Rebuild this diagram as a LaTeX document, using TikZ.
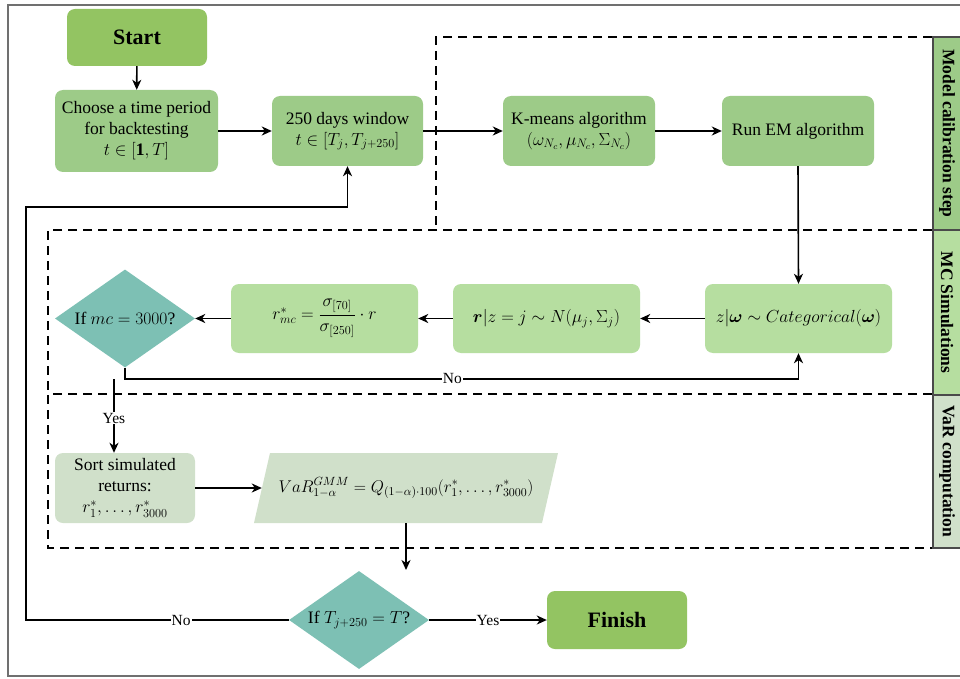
\RequirePackage{fix-cm}
\documentclass[tikz,border=0pt]{standalone}
\usepackage{amsmath}
\usepackage{fontspec}
\setmainfont{Liberation Serif}
\usetikzlibrary{arrows.meta,shapes.geometric}
\definecolor{cstart}{HTML}{93C462}
\definecolor{cmid}{HTML}{9DCB88}
\definecolor{clight}{HTML}{B6DEA0}
\definecolor{cteal}{HTML}{7DC0B4}
\definecolor{cpale}{HTML}{D0E0CA}
\definecolor{cframe}{HTML}{707070}
\definecolor{cside}{HTML}{4A4A4A}
\newcommand\fs{\fontsize{17.5}{21}\selectfont}
\newcommand\vfs{\fontsize{17}{20}\selectfont}
\newcommand\bfs{\fontsize{22}{26}\selectfont\bfseries}
\newcommand\lfs{\fontsize{15.5}{18}\selectfont}
\newcommand\sfs{\fontsize{17.5}{21}\selectfont\bfseries}
\begin{document}
\begin{tikzpicture}[x=1pt,y=-1pt,
  gbox/.style={draw=none, rounded corners=8pt, align=center, inner sep=2pt, font=\fs, text=black},
  dia/.style={diamond, fill=cteal, inner sep=0pt, aspect=1.43, minimum width=140pt, minimum height=98pt, font=\fs},
  arr/.style={line width=1.6pt, -{Stealth[length=10pt,width=9pt,inset=3pt]}},
  dsh/.style={line width=1.6pt, dash pattern=on 9pt off 6pt},
  lbl/.style={fill=white, inner sep=1pt, font=\lfs},
  sidebox/.style={draw=cside, line width=1.5pt, minimum width=28pt, font=\sfs, inner sep=0pt}]
\useasboundingbox (0,0) rectangle (960,679);
\clip (0,0) rectangle (960,679);
\fill[white] (0,0) rectangle (960,679);
\draw[cframe, line width=1.5pt] (8,5) rectangle (975,676);

% dashed regions
\draw[dsh] (932,37) -- (436,37) -- (436,230);
\draw[dsh] (932,230) -- (48,230) -- (48,394);
\draw[dsh] (932,394) -- (48,394) -- (48,548) -- (932,548);

% side labels
\node[sidebox, fill=cmid, minimum height=193pt] (s1) at (947,133.5) {\rotatebox{-90}{Model calibration step}};
\node[sidebox, fill=clight, minimum height=165pt] (s2) at (947,312.5) {\rotatebox{-90}{MC Simulations}};
\node[sidebox, fill=cpale, minimum height=153pt] (s3) at (947,471.5) {\rotatebox{-90}{VaR computation}};

% row 1
\node[gbox, fill=cstart, minimum width=140pt, minimum height=57pt, font=\bfs] (start) at (137,37.5) {Start};
\node[gbox, fill=cmid, minimum width=163pt, minimum height=82pt] (choose) at (136.5,131) {Choose a time period\\for backtesting\\$t\in[\mathbf{1},T]$};
\node[gbox, fill=cmid, minimum width=151pt, minimum height=70pt] (win) at (347.5,131) {250 days window\\$t\in[T_j,T_{j+250}]$};
\node[gbox, fill=cmid, minimum width=152pt, minimum height=70pt] (km) at (579,131) {K-means algorithm\\$(\omega_{N_c},\mu_{N_c},\Sigma_{N_c})$};
\node[gbox, fill=cmid, minimum width=152pt, minimum height=70pt] (em) at (798,131) {Run EM algorithm};

% row 2
\node[gbox, fill=clight, minimum width=187pt, minimum height=69pt] (cat) at (798.5,318.5) {$z|\boldsymbol{\omega}\sim Categorical(\boldsymbol{\omega})$};
\node[gbox, fill=clight, minimum width=187pt, minimum height=69pt] (rz) at (546.5,318.5) {$\boldsymbol{r}|z=j\sim N(\mu_j,\Sigma_j)$};
\node[gbox, fill=clight, minimum width=187pt, minimum height=69pt] (rmc) at (324.5,318.5) {$r^*_{mc}=\dfrac{\sigma_{[70]}}{\sigma_{[250]}}\cdot r$};
\node[dia] (d1) at (125,318.5) {\makebox[0pt]{If $mc=3000$?}};

% row 3
\node[gbox, fill=cpale, minimum width=140pt, minimum height=70pt] (sort) at (125,488) {Sort simulated\\returns:\\$r^*_1,\dots,r^*_{3000}$};
\fill[cpale] (254,523) -- (270,453) -- (558,453) -- (542,523) -- cycle;
\node[minimum width=288pt, minimum height=70pt, inner sep=0pt, font=\vfs] (var) at (406,488) {$VaR^{GMM}_{1-\alpha}=Q_{(1-\alpha)\cdot 100}(r^*_1,\dots,r^*_{3000})$};

% bottom
\node[dia] (d2) at (359,620) {\makebox[0pt]{If $T_{j+250}=T$?}};
\node[gbox, fill=cstart, minimum width=140pt, minimum height=58pt, font=\bfs] (fin) at (617,620) {Finish};

% connectors
\draw[arr] (start) -- (choose);
\draw[arr] (choose) -- (win);
\draw[arr] (win) -- (km);
\draw[arr] (km) -- (em);
\draw[arr] (em.south) -- (cat.north);
\draw[arr] (cat) -- (rz);
\draw[arr] (rz) -- (rmc);
\draw[arr] (rmc) -- (d1);
\draw[arr] (d1.south) -- ++(0,11) coordinate (nb) -- node[lbl, pos=0.486]{No} (nb -| cat.south) -- (cat.south);
\coordinate (yb) at (114,379);
\draw[arr] (yb) -- node[lbl, pos=0.53]{Yes} (yb |- sort.north);
\draw[arr] (sort.east) -- (var.west);
\coordinate (vend) at (406,570);
\draw[arr] (var.south) -- (vend);
\coordinate (lpA) at (26,620);
\coordinate (lpB) at (26,207);
\draw[arr] (d2.west) -- node[lbl, pos=0.41]{No} (lpA) -- (lpB) -- (win.south |- lpB) -- (win.south);
\draw[arr] (d2.east) -- node[lbl]{Yes} (fin.west);
\end{tikzpicture}
\end{document}
